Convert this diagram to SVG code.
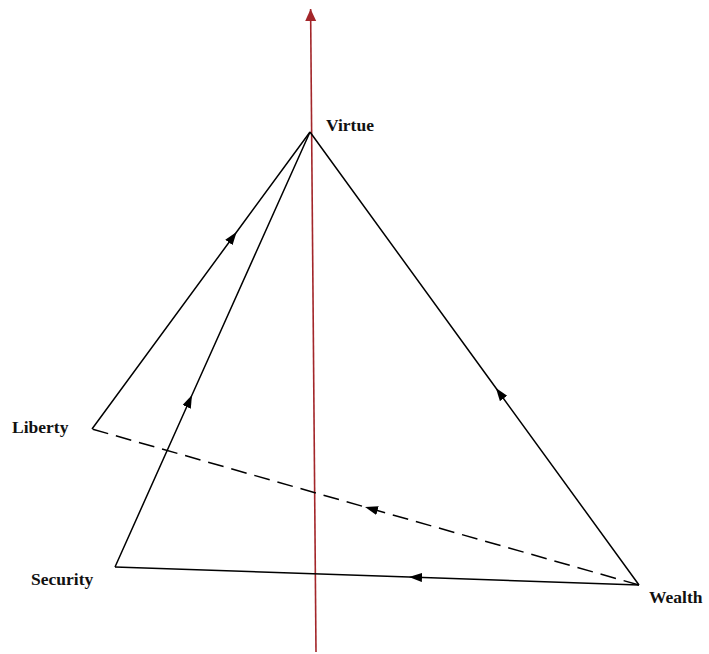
<svg xmlns="http://www.w3.org/2000/svg" width="709" height="654" viewBox="0 0 709 654">
<style>
.edge{fill:none;stroke:#000;stroke-width:1.5;marker-mid:url(#ah)}
.dash{stroke-dasharray:16 8}
.lbl{font-family:"Liberation Serif","Times New Roman",serif;font-weight:bold;font-size:17.5px;fill:#111}
</style>
<defs>
<marker id="ah" markerUnits="userSpaceOnUse" markerWidth="14" markerHeight="10" refX="13" refY="4.5" orient="auto">
<path d="M0,0 L13,4.5 L0,9 z" fill="#000"/>
</marker>
<marker id="rh" markerUnits="userSpaceOnUse" markerWidth="12" markerHeight="12" refX="12" refY="5.5" orient="auto">
<path d="M0,0 L12,5.5 L0,11 z" fill="#a3262a"/>
</marker>
</defs>
<g id="axis">
<line x1="316" y1="652" x2="310.6" y2="9" stroke="#a3262a" stroke-width="1.6" marker-end="url(#rh)"/>
</g>
<g id="connectors">
<path class="edge" d="M92,429 L236.6,232 L310,132"/>
<path class="edge" d="M115,567 L192,395 L310,132"/>
<path class="edge" d="M639,585 L495.9,388 L310,132"/>
<path class="edge dash" d="M639,585 L365,507 L92,429"/>
<path class="edge" d="M639,585 L409,577.1 L115,567"/>
</g>
<g id="virtue"><text class="lbl" x="326" y="131">Virtue</text></g>
<g id="liberty"><text class="lbl" x="12" y="433">Liberty</text></g>
<g id="security"><text class="lbl" x="31" y="585">Security</text></g>
<g id="wealth"><text class="lbl" x="649" y="603">Wealth</text></g>
</svg>
